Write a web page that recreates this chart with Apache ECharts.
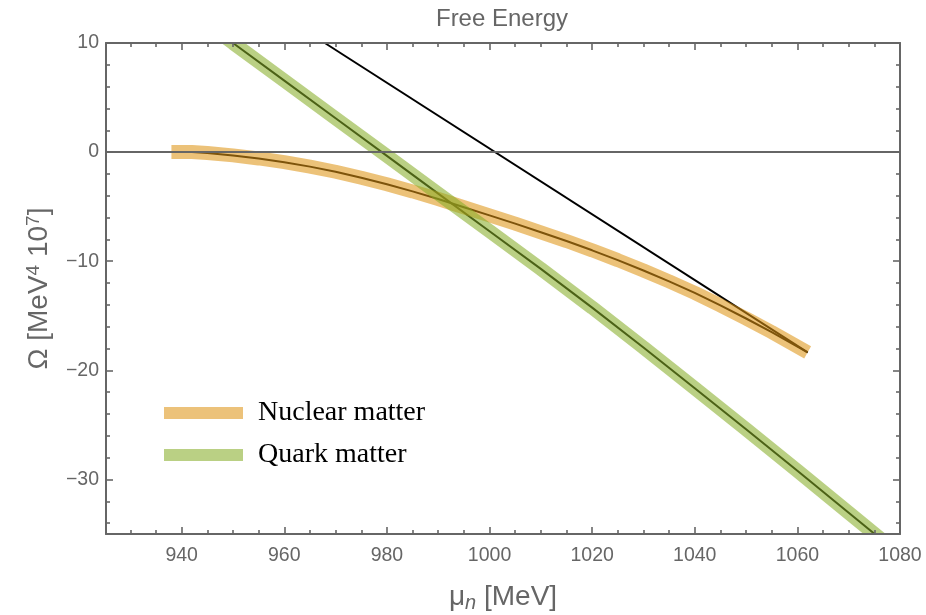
<!DOCTYPE html>
<html>
<head>
<meta charset="utf-8">
<script src="https://cdn.jsdelivr.net/npm/echarts@6/dist/echarts.min.js"></script>
<style>
  html, body { margin: 0; padding: 0; background: #fff; }
  #chart { width: 926px; height: 615px; }
</style>
</head>
<body>
<div id="chart"></div>
<script>
// values
const nuclearMu = [938, 942, 945, 950, 955, 960, 965, 970, 975, 980, 985, 990, 995, 1000, 1005, 1010, 1015, 1020, 1025, 1030, 1035, 1040, 1045, 1050, 1055, 1062]
const nuclearOmega = [0.0, 0.0, -0.08, -0.3, -0.58, -0.92, -1.33, -1.8, -2.35, -2.95, -3.6, -4.3, -5.05, -5.8, -6.55, -7.35, -8.15, -9.0, -9.9, -10.85, -11.85, -12.9, -14.05, -15.25, -16.5, -18.35]

const quarkMu = [945, 950, 960, 970, 980, 990, 1000, 1010, 1020, 1030, 1040, 1050, 1060, 1070, 1080]
const quarkOmega = [11.75, 10.0, 6.55, 3.1, -0.35, -3.8, -7.25, -10.7, -14.25, -17.9, -21.65, -25.4, -29.2, -33.05, -36.9]

// thin black straight line
const tangentMu = [967.9, 1062]
const tangentOmega = [10, -18.35]

const xTicks = [940, 960, 980, 1000, 1020, 1040, 1060, 1080]
const yTicks = [-30, -20, -10, 0, 10]

const xMinor = []
for (let v = 930; v < 1080; v += 5) if (v % 20 !== 0) xMinor.push(v)
const yMinor = []
for (let v = -34; v < 10; v += 2) if (v % 10 !== 0) yMinor.push(v)

const pairs = (xs, ys) => xs.map((x, i) => [x, ys[i]])

const frame = '#666666'
const sans = 'Liberation Sans, Arial, sans-serif'

const makeX = (pos, ticks, len, main) => ({
  type: 'value',
  position: pos,
  min: 925.25,
  max: 1080,
  z: 5,
  axisLine: { show: main, onZero: false, lineStyle: { color: frame, width: 2 } },
  axisTick: { show: true, inside: true, length: len, customValues: ticks, lineStyle: { color: frame, width: 1.6 } },
  axisLabel: {
    show: main && pos === 'bottom',
    customValues: ticks,
    fontSize: 19.5,
    color: '#666',
    fontFamily: sans,
    margin: 12,
    formatter: (v) => String(v),
  },
  splitLine: { show: false },
})

const makeY = (pos, ticks, len, main) => ({
  type: 'value',
  position: pos,
  min: -35,
  max: 10,
  z: 5,
  axisLine: { show: main, onZero: false, lineStyle: { color: frame, width: 2 } },
  axisTick: { show: true, inside: true, length: len, customValues: ticks, lineStyle: { color: frame, width: 1.6 } },
  axisLabel: {
    show: main && pos === 'left',
    customValues: ticks,
    fontSize: 19.5,
    color: '#666',
    fontFamily: sans,
    margin: 7,
    formatter: (v) => (v < 0 ? '\u2212' + Math.abs(v) : String(v)),
  },
  splitLine: { show: false },
})

const xAxes = [
  makeX('bottom', xTicks, 7, true),
  makeX('bottom', xMinor, 4, false),
  makeX('top', xTicks, 7, true),
  makeX('top', xMinor, 4, false),
]
Object.assign(xAxes[0], {
  name: 'μ{n|n} [MeV]',
  nameLocation: 'middle',
  nameGap: 48,
  nameTextStyle: {
    fontSize: 28,
    color: '#666',
    fontFamily: sans,
    rich: { n: { fontSize: 20, fontStyle: 'italic', color: '#666', fontFamily: sans, padding: [11, 0, 0, 0] } },
  },
})

const yAxes = [
  makeY('left', yTicks, 7, true),
  makeY('left', yMinor, 4, false),
  makeY('right', yTicks, 7, true),
  makeY('right', yMinor, 4, false),
]
Object.assign(yAxes[0], {
  name: 'Ω [MeV{s|4} 10{s|7}]',
  nameLocation: 'middle',
  nameRotate: 90,
  nameGap: 51,
  nameTextStyle: {
    fontSize: 28,
    color: '#666',
    fontFamily: sans,
    rich: { s: { fontSize: 19, color: '#666', fontFamily: sans, padding: [0, 0, 12, 0] } },
  },
})

const thin = (name, data) => ({
  name,
  type: 'line',
  data,
  symbol: 'none',
  silent: true,
  z: 2,
  lineStyle: { color: '#000', width: 2 },
})

const band = (name, data, color) => ({
  name,
  type: 'line',
  data,
  symbol: 'none',
  silent: true,
  z: 3,
  lineStyle: { color, width: 14, cap: 'butt' },
  itemStyle: { color },
})

const chart = echarts.init(document.getElementById('chart'), null, { renderer: 'canvas' })

chart.setOption({
  animation: false,
  backgroundColor: '#fff',
  title: {
    text: 'Free Energy',
    left: 497,
    textAlign: 'center',
    top: 2,
    textStyle: { fontSize: 24, fontWeight: 'normal', color: '#666', fontFamily: sans },
  },
  grid: { left: 106, right: 26, top: 43, bottom: 81, containLabel: false, outerBoundsMode: 'none' },
  xAxis: xAxes,
  yAxis: yAxes,
  // thin white strips hide the part of the thick bands that ECharts lets spill past the frame
  graphic: [
    { type: 'rect', z: 4, silent: true, shape: { x: 0, y: 30, width: 926, height: 12 }, style: { fill: '#fff' } },
    { type: 'rect', z: 4, silent: true, shape: { x: 0, y: 535, width: 926, height: 10 }, style: { fill: '#fff' } },
  ],
  legend: {
    orient: 'vertical',
    left: 159,
    top: 393,
    icon: 'rect',
    itemWidth: 79,
    itemHeight: 12,
    itemGap: 12,
    data: [
      { name: 'Nuclear matter', itemStyle: { color: '#ECC27A' } },
      { name: 'Quark matter', itemStyle: { color: '#BAD084' } },
    ],
    textStyle: {
      fontFamily: 'Liberation Serif, Times New Roman, serif',
      fontSize: 28,
      color: '#000',
      lineHeight: 30,
      padding: [0, 0, 0, 10],
    },
  },
  series: [
    thin('nuclear-line', pairs(nuclearMu, nuclearOmega)),
    thin('quark-line', pairs(quarkMu, quarkOmega)),
    thin('tangent', pairs(tangentMu, tangentOmega)),
    band('Nuclear matter', pairs(nuclearMu, nuclearOmega), 'rgba(222,147,20,0.57)'),
    band('Quark matter', pairs(quarkMu, quarkOmega), 'rgba(134,172,39,0.57)'),
    {
      name: 'zero',
      type: 'line',
      data: [],
      silent: true,
      z: 4,
      markLine: {
        silent: true,
        symbol: 'none',
        label: { show: false },
        lineStyle: { color: frame, width: 1.8, type: 'solid' },
        data: [{ yAxis: 0 }],
      },
    },
  ],
})
</script>
</body>
</html>
